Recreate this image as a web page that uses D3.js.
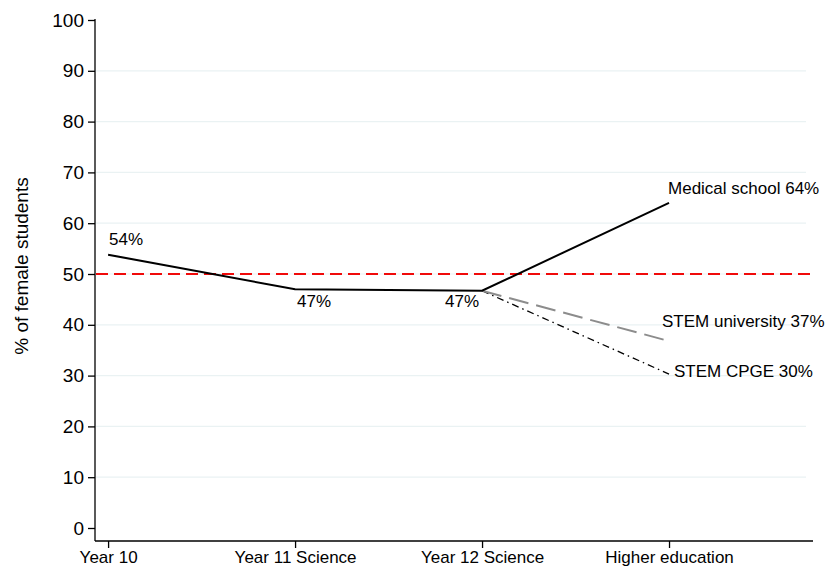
<!DOCTYPE html>
<html lang="en">
<head>
  <meta charset="UTF-8">
  <title>% of female students</title>
  <script src="https://d3js.org/d3.v7.min.js"></script>
  <style>
    body { margin: 0; background: #fff; font-family: 'Liberation Sans', Arial, sans-serif; }
    text { fill: #000; }
    .grid { stroke: #eaf2f3; stroke-width: 1.2; }
    .domain, .tick line { stroke: #000; stroke-width: 1.3; }
    .main { fill: none; stroke: #000; stroke-width: 2; }
    .uni { fill: none; stroke: #8c8c8c; stroke-width: 2; stroke-dasharray: 20 8; }
    .cpge { fill: none; stroke: #000; stroke-width: 1.3; stroke-dasharray: 7 4 1.5 4; }
    .ref { stroke: #f00a0a; stroke-width: 2; stroke-dasharray: 12 6; }
  </style>
</head>
<body>
  <svg width="826" height="573"></svg>
  <script>
    const categories = ["Year 10", "Year 11 Science", "Year 12 Science", "Higher education"];
    const medicalValues = [53.8, 47.0, 46.7, 64.0];
    const stemUniValues = [null, null, 46.7, 36.8];
    const cpgeValues = [null, null, 46.7, 30.3];
    const yTicks = [0, 10, 20, 30, 40, 50, 60, 70, 80, 90, 100];
    const parity = 50;

    // point labels: [category index, value, text]
    const pointLabels = [
      [0, 53.8, "54%"],
      [1, 47.0, "47%"],
      [2, 46.7, "47%"]
    ];
    const endLabels = [
      [64.0, "Medical school 64%"],
      [36.8, "STEM university 37%"],
      [30.3, "STEM CPGE 30%"]
    ];

    const svg = d3.select("svg");

    const x = d3.scaleLinear().domain([0.93, 4.77]).range([95, 813]);
    const y = d3.scaleLinear().domain([0, 100]).range([528, 20]);
    const xBottom = 541;

    // gridlines
    svg.append("g").selectAll("line")
      .data(yTicks.filter(d => d > 0 && d < 100))
      .join("line")
      .attr("class", "grid")
      .attr("x1", 96).attr("x2", 806)
      .attr("y1", d => y(d)).attr("y2", d => y(d));

    // y axis
    const yAxis = svg.append("g")
      .attr("transform", "translate(95,0)")
      .call(d3.axisLeft(y).tickValues(yTicks).tickSize(7).tickPadding(4).tickSizeOuter(0));
    yAxis.select(".domain").attr("d", `M0,${y(100) - 1}V${xBottom}`);
    yAxis.selectAll("text").style("font-size", "19px").attr("font-family", "Liberation Sans, Arial, sans-serif");

    // x axis
    const xAxis = svg.append("g")
      .attr("transform", `translate(0,${xBottom})`)
      .call(d3.axisBottom(x).tickValues([1, 2, 3, 4]).tickFormat(d => categories[d - 1])
        .tickSize(7).tickPadding(3).tickSizeOuter(0));
    xAxis.select(".domain").attr("d", `M95,0H813`);
    xAxis.selectAll("text").style("font-size", "17px").attr("font-family", "Liberation Sans, Arial, sans-serif");

    // y title
    svg.append("text")
      .attr("transform", `translate(28,${266}) rotate(-90)`)
      .attr("text-anchor", "middle")
      .style("font-size", "19px")
      .text("% of female students");

    // parity line
    svg.append("line")
      .attr("class", "ref")
      .attr("x1", 96).attr("x2", 810)
      .attr("y1", y(parity)).attr("y2", y(parity));

    const line = d3.line()
      .defined(d => d != null)
      .x((d, i) => x(i + 1))
      .y(d => y(d));

    svg.append("path").datum(cpgeValues).attr("class", "cpge").attr("d", line);
    svg.append("path").datum(stemUniValues).attr("class", "uni").attr("d", line);
    svg.append("path").datum(medicalValues).attr("class", "main").attr("d", line);

    const fs = "17px";
    // point labels
    svg.append("text").attr("x", x(1) + 1).attr("y", y(pointLabels[0][1]) - 10)
      .style("font-size", fs).text(pointLabels[0][2]);
    svg.append("text").attr("x", x(2) + 19).attr("y", y(pointLabels[1][1]) + 18)
      .attr("text-anchor", "middle").style("font-size", fs).text(pointLabels[1][2]);
    svg.append("text").attr("x", x(3) - 3).attr("y", y(pointLabels[2][1]) + 16)
      .attr("text-anchor", "end").style("font-size", fs).text(pointLabels[2][2]);

    // end labels
    svg.append("text").attr("x", x(4) - 1).attr("y", y(endLabels[0][0]) - 9)
      .style("font-size", fs).text(endLabels[0][1]);
    svg.append("text").attr("x", x(4) - 7).attr("y", y(endLabels[1][0]) - 14)
      .style("font-size", fs).text(endLabels[1][1]);
    svg.append("text").attr("x", x(4) + 5).attr("y", y(endLabels[2][0]) + 3)
      .style("font-size", fs).text(endLabels[2][1]);
  </script>
</body>
</html>
